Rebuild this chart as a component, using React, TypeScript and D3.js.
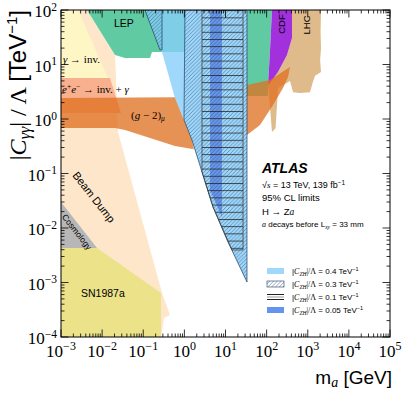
import React from 'react';
import * as d3 from 'd3';

// axis ranges: m_a [GeV] and |C_gg|/Lambda [TeV^-1]
const xDomain = [1e-3, 1e5];
const yDomain = [1e-4, 1e2];
const xTickExp = [-3, -2, -1, 0, 1, 2, 3, 4, 5];
const yTickExp = [-4, -3, -2, -1, 0, 1, 2];

// excluded regions, points are [m_a, |Cgg|/Lambda]
const beamDump = [[0.001, 100], [0.0043, 100], [0.0206, 14.9], [0.0243, 0.577], [0.286, 0.00064], [0.447, 0.000253], [0.32, 0.000223], [0.27, 0.0001], [0.001, 0.0001]];
const gammaInv = [[0.001, 100], [0.0026, 100], [0.0139, 5.65], [0.001, 5.65]];
const eeInv = [[0.001, 5.65], [0.0155, 5.65], [0.0288, 1.29], [0.001, 1.29]];
const cosmology = [[0.001, 0.03], [0.0075, 0.0043], [0.001, 0.0043]];
const sn1987a = [[0.001, 0.0043], [0.0075, 0.0043], [0.27, 0.00064], [0.27, 0.0001], [0.001, 0.0001]];
const lep = [
  [[0.0043, 100], [1.035, 100], [1.035, 16.9], [0.163, 16.9], [0.146, 13.2], [0.036, 13.2], [0.0206, 14.9]],
  [[33.3, 100], [135, 100], [121, 18.5], [108, 4.2], [108, 2.64], [33.3, 2.64]],
];
const lhc = [[414, 100], [2100, 100], [2050, 40], [2100, 20], [2000, 12], [2100, 7.3], [1500, 6.2], [1300, 4.5], [1135, 3.1], [650, 3.0], [440, 3.1], [370, 5.0], [190, 3.7], [165, 0.68], [135, 0.58], [112, 3.4], [108, 4.2], [189, 7.3], [313, 14.9], [414, 30.6]];
const cdf = [[135, 100], [414, 100], [414, 30.6], [313, 14.9], [189, 7.3], [121, 4.58], [108, 4.2], [121, 18.5]];
const g2 = [
  [[0.001, 2.43], [0.59, 2.5], [1.53, 0.412], [1.7, 0.28], [0.59, 0.32], [0.146, 0.448], [0.036, 0.629], [0.0206, 0.684], [0.001, 0.684]],
  [[33.3, 4.2], [121, 5.2], [370, 9.0], [331, 5.9], [250, 3.7], [143, 1.81], [69, 0.776], [33.3, 0.508]],
];
// H -> Za limits for several |C_ZH|/Lambda
const czh04 = [[0.11, 100], [33.3, 100], [33.3, 0.00102], [10.9, 0.00603], [4.97, 0.0243], [1.53, 0.412], [0.59, 2.43], [0.286, 16.9], [0.255, 18.5]];
const czh03 = [
  [[0.11, 100], [0.286, 100], [0.286, 18.5], [0.255, 18.5]],
  [[1.035, 100], [33.3, 100], [33.3, 0.00102], [10.9, 0.00603], [4.97, 0.0243], [1.53, 0.412], [0.98, 0.96]],
];
const czh01 = [[2.68, 100], [26.7, 100], [26.7, 0.00395], [14.4, 0.00395], [4.97, 0.0243], [2.68, 0.107]];
const czh005 = [[4.2, 100], [8.2, 100], [8.2, 0.0159], [4.2, 0.0498]];

const legendLabels = ['0.4', '0.3', '0.1', '0.05'];

const serif = "'Times New Roman', 'Liberation Serif', serif";
const sans = "Arial, 'Liberation Sans', sans-serif";

export default function App() {
  const x = d3.scaleLog().domain(xDomain).range([61, 390]);
  const y = d3.scaleLog().domain(yDomain).range([337, 10]);
  const line = d3.line<number[]>().x(d => x(d[0])).y(d => y(d[1]));
  const P = (pts: number[][]) => line(pts as any) + 'Z';

  const minors = (exps: number[]) => {
    const out: number[] = [];
    exps.slice(0, -1).forEach(e => { for (let m = 2; m <= 9; m++) out.push(m * Math.pow(10, e)); });
    return out;
  };
  const xMinor = minors(xTickExp);
  const yMinor = minors(yTickExp);
  const [x0, x1] = x.range();
  const [y0, y1] = y.range();
  const maj = 7.5, mnr = 3.5;

  const hatchCol = '#1e3d66';
  const legY = [271, 284, 297, 310];

  return (
    <svg width={407} height={394} style={{ position: 'absolute', left: 0, top: 0, background: '#fff' }}>
      <defs>
        <clipPath id="plot"><rect x={x0} y={y1} width={x1 - x0} height={y0 - y1} /></clipPath>
        <pattern id="h03" patternUnits="userSpaceOnUse" width="3.8" height="3.8">
          <path d="M-1,1 L1,-1 M0,3.8 L3.8,0 M2.8,4.8 L4.8,2.8" stroke={hatchCol} strokeWidth="0.45" />
        </pattern>
        <pattern id="h01" patternUnits="userSpaceOnUse" width="8" height="7.2" y="3">
          <line x1="0" x2="8" y1="0.5" y2="0.5" stroke="#222" strokeWidth="0.8" />
        </pattern>
      </defs>

      <g clipPath="url(#plot)">
        <path d={P(beamDump)} fill="#fde6c9" />
        <path d={P(gammaInv)} fill="#fff6c6" />
        <path d={P(eeInv)} fill="#f9b08f" />
        <path d={P(cosmology)} fill="#b7b7b7" />
        <path d={P(sn1987a)} fill="#ebe28a" />
        {lep.map((p, i) => <path key={'l' + i} d={P(p)} fill="#60cba2" />)}
        <path d={P(lhc)} fill="#dfba8a" />
        <path d={P(cdf)} fill="#a330dd" />
        {g2.map((p, i) => <path key={'g' + i} d={P(p)} fill="#e07020" fillOpacity={0.76} />)}

        <path d={P(czh04)} fill="#87cefa" fillOpacity={0.8} />
        <path d={P(czh005)} fill="#6594ec" fillOpacity={0.95} />
        {czh03.map((p, i) => <path key={'h' + i} d={P(p)} fill="url(#h03)" stroke={hatchCol} strokeWidth={0.7} />)}
        <path d={P(czh01)} fill="url(#h01)" stroke="#333" strokeWidth={0.7} />
      </g>

      {/* region labels */}
      <text x={114} y={27} fontFamily={sans} fontSize={10.5}>LEP</text>
      <text fontFamily={sans} fontSize={9.5} transform="translate(285,24) rotate(-90)" textAnchor="middle">CDF</text>
      <text fontFamily={sans} fontSize={9.5} transform="translate(310,25) rotate(-90)" textAnchor="middle">LHC</text>
      <text x={63} y={63} fontFamily={serif} fontSize={11}>
        <tspan fontStyle="italic">γ</tspan> → inv.
      </text>
      <text x={62} y={93} fontFamily={serif} fontSize={11}>
        <tspan fontStyle="italic">e</tspan><tspan fontSize={7.5} dy={-4}>+</tspan><tspan fontStyle="italic" dy={4}>e</tspan><tspan fontSize={7.5} dy={-4}>−</tspan><tspan dy={4}> → inv. + </tspan><tspan fontStyle="italic">γ</tspan>
      </text>
      <text x={131} y={119} fontFamily={serif} fontSize={11}>
        (<tspan fontStyle="italic">g</tspan> − 2)<tspan fontStyle="italic" fontSize={7.5} dy={2}>μ</tspan>
      </text>
      <text fontFamily={sans} fontSize={11} transform="translate(94,197) rotate(52)" textAnchor="middle" dominantBaseline="central">Beam Dump</text>
      <text fontFamily={sans} fontSize={8.5} transform="translate(77,232) rotate(52)" textAnchor="middle" dominantBaseline="central">Cosmology</text>
      <text x={81} y={297} fontFamily={sans} fontSize={10.5}>SN1987a</text>

      {/* ATLAS block */}
      <text x={262} y={173} fontFamily={sans} fontSize={14} fontWeight="bold" fontStyle="italic">ATLAS</text>
      <text x={262} y={188} fontFamily={sans} fontSize={9}>
        √<tspan fontStyle="italic" fontFamily={serif}>s</tspan> = 13 TeV, 139 fb<tspan fontSize={6.5} dy={-3.5}>−1</tspan>
      </text>
      <text x={262} y={201} fontFamily={sans} fontSize={9.5}>95% CL limits</text>
      <text x={262} y={215} fontFamily={sans} fontSize={9.5}>
        H → Z<tspan fontStyle="italic" fontFamily={serif}>a</tspan>
      </text>
      <text x={262} y={227} fontFamily={sans} fontSize={8}>
        <tspan fontStyle="italic" fontFamily={serif}>a</tspan> decays before L<tspan fontSize={5.5} dy={2} fontStyle="italic" fontFamily={serif}>xy</tspan><tspan dy={-2}> = 33 mm</tspan>
      </text>

      {/* legend */}
      {legendLabels.map((lab, i) => (
        <g key={lab}>
          {i === 0 && <rect x={267} y={legY[i] - 3} width={17} height={6} fill="#87cefa" fillOpacity={0.8} />}
          {i === 1 && <rect x={267} y={legY[i] - 3} width={17} height={6} fill="url(#h03)" stroke={hatchCol} strokeWidth={0.6} />}
          {i === 2 && <g>
            <line x1={267} x2={284} y1={legY[i] - 2.5} y2={legY[i] - 2.5} stroke="#222" strokeWidth={1} />
            <line x1={267} x2={284} y1={legY[i]} y2={legY[i]} stroke="#999" strokeWidth={1} />
            <line x1={267} x2={284} y1={legY[i] + 2.5} y2={legY[i] + 2.5} stroke="#222" strokeWidth={1} />
          </g>}
          {i === 3 && <rect x={267} y={legY[i] - 3} width={17} height={6} fill="#6594ec" />}
          <text x={292} y={legY[i] + 3} fontFamily={sans} fontSize={8}>
            |<tspan fontStyle="italic" fontFamily={serif}>C</tspan><tspan fontStyle="italic" fontFamily={serif} fontSize={5.5} dy={1.5}>ZH</tspan><tspan dy={-1.5} fontFamily={serif}>|/Λ</tspan> = {lab} TeV<tspan fontSize={5.5} dy={-3}>−1</tspan>
          </text>
        </g>
      ))}

      {/* frame and ticks */}
      <rect x={x0} y={y1} width={x1 - x0} height={y0 - y1} fill="none" stroke="#000" strokeWidth={1} />
      <g stroke="#000" strokeWidth={0.8}>
        {xTickExp.map(e => {
          const px = x(Math.pow(10, e));
          return <g key={'xt' + e}><line x1={px} x2={px} y1={y0} y2={y0 - maj} /><line x1={px} x2={px} y1={y1} y2={y1 + maj} /></g>;
        })}
        {xMinor.map(v => {
          const px = x(v);
          return <g key={'xm' + v}><line x1={px} x2={px} y1={y0} y2={y0 - mnr} /><line x1={px} x2={px} y1={y1} y2={y1 + mnr} /></g>;
        })}
        {yTickExp.map(e => {
          const py = y(Math.pow(10, e));
          return <g key={'yt' + e}><line x1={x0} x2={x0 + maj} y1={py} y2={py} /><line x1={x1} x2={x1 - maj} y1={py} y2={py} /></g>;
        })}
        {yMinor.map(v => {
          const py = y(v);
          return <g key={'ym' + v}><line x1={x0} x2={x0 + mnr} y1={py} y2={py} /><line x1={x1} x2={x1 - mnr} y1={py} y2={py} /></g>;
        })}
      </g>

      {/* tick labels */}
      {xTickExp.map(e => (
        <text key={'xl' + e} x={x(Math.pow(10, e))} y={357} textAnchor="middle" fontFamily={serif} fontSize={17}>
          10<tspan fontSize={12} dy={-7}>{e < 0 ? '−' + Math.abs(e) : String(e)}</tspan>
        </text>
      ))}
      {yTickExp.map(e => (
        <text key={'yl' + e} x={57} y={y(Math.pow(10, e)) + 7} textAnchor="end" fontFamily={serif} fontSize={17}>
          10<tspan fontSize={11.5} dy={-6.5}>{e < 0 ? '−' + Math.abs(e) : String(e)}</tspan>
        </text>
      ))}

      {/* axis titles */}
      <text transform="translate(26,10) rotate(-90)" textAnchor="end" fontFamily={serif} fontSize={24}>
        |<tspan fontStyle="italic">C</tspan><tspan fontStyle="italic" fontSize={16} dy={4}>γγ</tspan><tspan dy={-4}>| / Λ </tspan><tspan fontFamily={sans}>[TeV</tspan><tspan fontFamily={sans} fontSize={15} dy={-9}>−1</tspan><tspan fontFamily={sans} dy={9}>]</tspan>
      </text>
      <text x={392} y={384} textAnchor="end" fontFamily={sans} fontSize={19}>
        m<tspan fontStyle="italic" fontFamily={serif} fontSize={14} dy={3}>a</tspan><tspan dy={-3}> [GeV]</tspan>
      </text>
    </svg>
  );
}
